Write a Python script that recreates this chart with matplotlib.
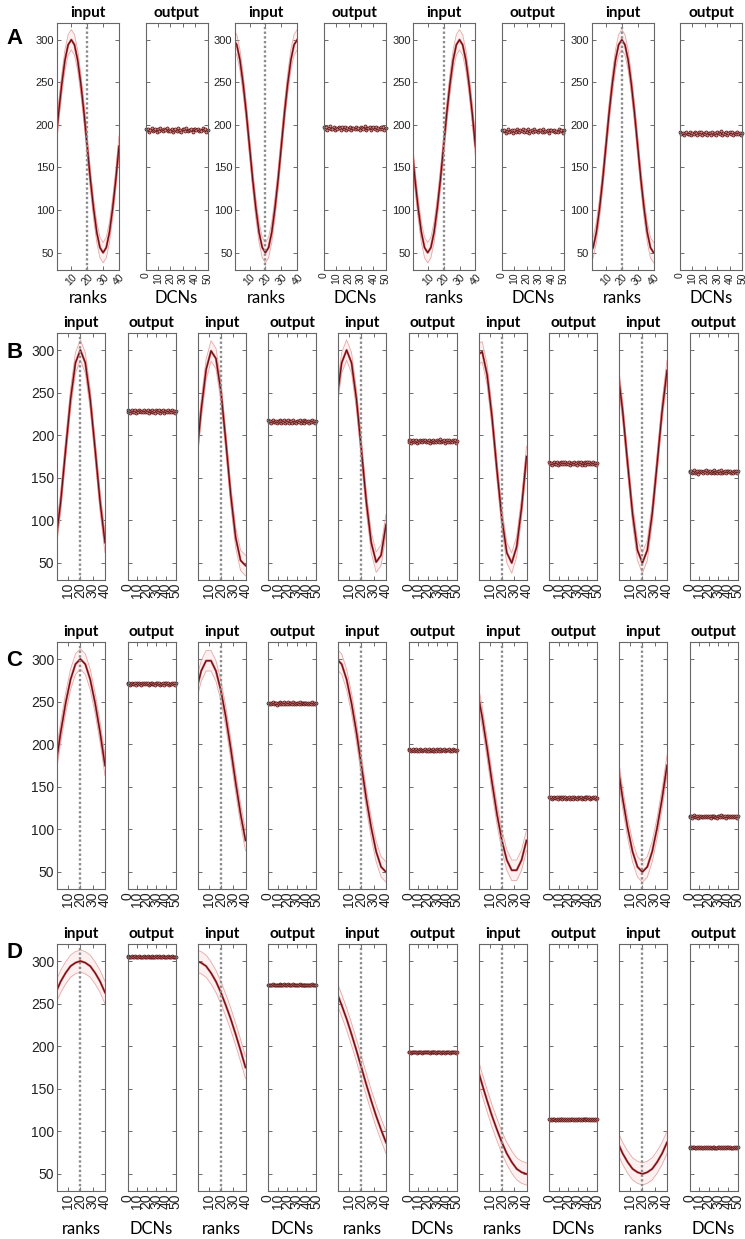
import numpy as np
import matplotlib.pyplot as plt

plt.rcParams['font.family'] = ['Liberation Sans', 'DejaVu Sans']

# sampled ranks of the input profiles
ranks_a = np.arange(0, 41, 2)
ranks_bcd = np.arange(0, 41, 4)
dcns = np.arange(0, 51)

# input profiles (mean rate per rank)
input_a = [
    [175, 214, 248, 276, 294, 300, 294, 276, 248, 214, 175, 136, 102, 74, 56, 50, 56, 74, 102, 136, 175],
    [300, 294, 276, 248, 214, 175, 136, 102, 74, 56, 50, 56, 74, 102, 136, 175, 214, 248, 276, 294, 300],
    [175, 136, 102, 74, 56, 50, 56, 74, 102, 136, 175, 214, 248, 276, 294, 300, 294, 276, 248, 214, 175],
    [50, 56, 74, 102, 136, 175, 214, 248, 276, 294, 300, 294, 276, 248, 214, 175, 136, 102, 74, 56, 50],
]
input_b = [
    [74, 122, 183, 242, 285, 300, 285, 242, 183, 122, 74],
    [170, 230, 277, 299, 290, 252, 193, 130, 80, 53, 47],
    [242, 285, 300, 285, 242, 183, 122, 74, 51, 59, 95],
    [294, 298, 271, 221, 159, 102, 62, 50, 69, 115, 175],
    [276, 228, 167, 108, 65, 50, 65, 108, 167, 228, 276],
]
input_c = [
    [175, 214, 248, 276, 294, 300, 294, 276, 248, 214, 175],
    [263, 286, 298, 298, 286, 263, 232, 195, 155, 118, 87],
    [300, 294, 276, 248, 214, 175, 136, 102, 74, 56, 50],
    [263, 232, 195, 155, 118, 87, 64, 52, 52, 64, 87],
    [175, 136, 102, 74, 56, 50, 56, 74, 102, 136, 175],
]
input_d = [
    [263, 276, 286, 294, 298, 300, 298, 294, 286, 276, 263],
    [300, 298, 294, 286, 276, 263, 248, 232, 214, 195, 175],
    [263, 248, 232, 214, 195, 175, 155, 136, 118, 102, 87],
    [175, 155, 136, 118, 102, 87, 74, 64, 56, 52, 50],
    [87, 74, 64, 56, 52, 50, 52, 56, 64, 74, 87],
]
band_sd = [12, 12, 12, 13]

# output levels of the DCNs
out_a = [194, 196, 193, 190]
out_b = [228, 216, 193, 167, 157]
out_c = [271, 248, 193, 137, 115]
out_d = [305, 272, 193, 114, 81]
jitter = np.array([
    1.2, -0.4, 0.8, -1.5, 0.3, 1.7, -0.9, -0.2, 1.1, -1.8,
    0.6, -0.7, 1.4, 0.1, -1.2, 0.9, -0.3, 1.6, -1.1, 0.4,
    -0.6, 1.3, -1.6, 0.2, 0.7, -1.0, 1.5, -0.5, 0.0, -1.4,
    1.0, 0.5, -0.8, 1.8, -1.3, 0.3, -0.1, 1.2, -1.7, 0.6,
    0.9, -0.4, 1.1, -1.2, 0.2, -0.9, 1.4, -0.3, 0.8, -1.5,
    0.4])
jitter_amp = [1.3, 1.1, 0.8, 0.35]

letters = ['A', 'B', 'C', 'D']
row_tops = [22.7, 333, 642, 944]
letter_y = [39, 352, 660, 953]

W, H = 745, 1239
fig = plt.figure(figsize=(W / 100, H / 100), dpi=100)


def box(l, t, w, h):
    return fig.add_axes([l / W, 1 - (t + h) / H, w / W, h / H])


def style(ax, fs):
    ax.set_ylim(30, 320)
    ax.set_yticks([50, 100, 150, 200, 250, 300])
    ax.tick_params(direction='in', top=True, right=True, length=3, width=0.6,
                   color='#555555', labelcolor='#222222', labelsize=fs, pad=2)
    for s in ax.spines.values():
        s.set_color('#666666')
        s.set_linewidth(0.8)


rows = [(input_a, ranks_a, out_a), (input_b, ranks_bcd, out_b),
        (input_c, ranks_bcd, out_c), (input_d, ranks_bcd, out_d)]
H_AX = 247

for r, (profiles, ranks, levels) in enumerate(rows):
    top = row_tops[r]
    wide = r == 0
    w = 62 if wide else 48
    step = 178.2 if wide else 140.5
    in0, out0 = (57, 145.5) if wide else (57, 127.5)
    fs = 8 if wide else 10
    fig.text(6 / W, 1 - letter_y[r] / H, letters[r], fontsize=16, fontweight='bold',
             ha='left', va='center')
    for k in range(len(profiles)):
        mean = np.array(profiles[k])
        sd = band_sd[r]
        ax = box(in0 + k * step, top, w, H_AX)
        ax.fill_between(ranks, mean - sd, mean + sd, color='#fdf0f0', lw=0)
        ax.plot(ranks, mean + sd, color='#e6a8a8', lw=0.6)
        ax.plot(ranks, mean - sd, color='#e6a8a8', lw=0.6)
        ax.plot(ranks, mean, color='#d65a5a', lw=1.6)
        ax.plot(ranks, mean, color='#5e0d16', lw=0.8)
        ax.axvline(20, color='#8c8c8c', ls=(0, (1, 1)), lw=1.7)
        ax.set_xlim(1, 40)
        ax.set_xticks([10, 20, 30, 40])
        style(ax, fs)
        if wide:
            ax.tick_params(axis='x', labelrotation=45, labelsize=7.5)
        else:
            ax.tick_params(axis='x', labelrotation=90, labelsize=10)
            if k > 0:
                ax.set_yticklabels([])
        ax.set_title('input', fontweight='bold', fontsize=11, family='Lato', pad=4)

        ax2 = box(out0 + k * step, top, w, H_AX)
        ax2.plot(dcns, levels[k] + jitter_amp[r] * jitter, 'o-', color='#7b1a24', lw=0.5,
                 ms=2.2, mew=0.5, mfc='#cf8a8a', mec='#5c1010', clip_on=False)
        ax2.set_xlim(0, 50)
        ax2.set_xticks([0, 10, 20, 30, 40, 50])
        style(ax2, fs)
        ax2.set_yticklabels([])
        ax2.tick_params(axis='x', labelrotation=90, labelsize=7.5 if wide else 10)
        ax2.set_title('output', fontweight='bold', fontsize=11, family='Lato', pad=4)

        if r in (0, 3):
            ly = -0.081 if wide else -0.121
            ax.set_xlabel('ranks', family='Lato', fontsize=12)
            ax.xaxis.set_label_coords(0.5, ly)
            ax2.set_xlabel('DCNs', family='Lato', fontsize=12)
            ax2.xaxis.set_label_coords(0.5, ly)

fig.savefig('out.png', dpi=100)
